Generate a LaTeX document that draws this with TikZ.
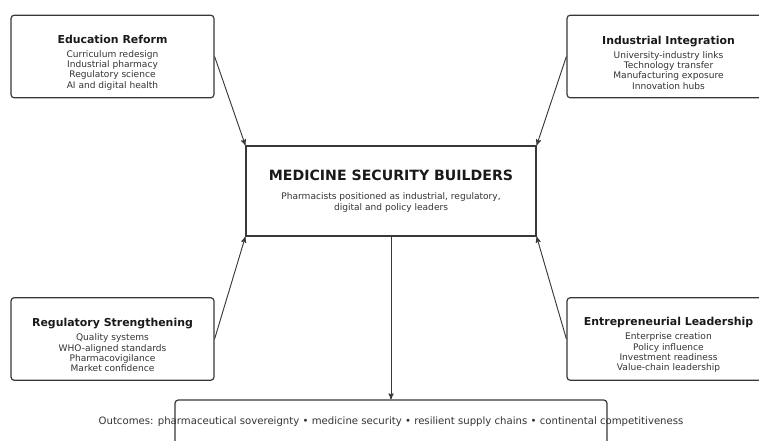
\documentclass[tikz,border=0pt]{standalone}
\usepackage{fontspec}
\setmainfont{DejaVu Sans}
\usetikzlibrary{positioning}
\usetikzlibrary{arrows}
\definecolor{BoxLine}{rgb}{0.22,0.22,0.22}
\definecolor{BodyText}{rgb}{0.2,0.2,0.2}
\newcommand{\pillarhead}[1]{\rule{0pt}{15.2pt}{\color{black!90}\bfseries\fontsize{8.2}{9.5}\selectfont #1}}

\begin{document}
\begin{tikzpicture}[x=0.75pt,y=-0.75pt,
	pillar/.style={rectangle, draw=BoxLine, line width=0.9pt, rounded corners=2.5pt,
		minimum width=152.25pt, minimum height=62pt, inner sep=0pt, align=center,
		font=\fontsize{6.8}{7.7}\selectfont, text=BodyText},
	core/.style={rectangle, draw=BoxLine, line width=0.9pt,
		minimum width=217.5pt, minimum height=67.5pt, inner sep=0pt, align=center,
		font=\fontsize{6.8}{8.2}\selectfont, text=BodyText},
	outbox/.style={rectangle, draw=BoxLine, line width=0.9pt, rounded corners=2.5pt,
		minimum width=324pt, minimum height=37.5pt},
	outtext/.style={font=\fontsize{7.6}{9}\selectfont, text=BodyText, inner sep=0pt},
	post/.style={->, draw=BoxLine, >=stealth', line width=0.7pt}]

	\clip (0,0) rectangle (759,441);

	% Centre
	\node[core] (core) at (391,191) {{\color{black!90}\bfseries\fontsize{10.6}{12}\selectfont MEDICINE SECURITY BUILDERS}\\[6.5pt]
		Pharmacists positioned as industrial, regulatory,\\ digital and policy leaders};
	% Pillars
	\node[pillar] (edu) at (112.5,56.5) {\pillarhead{Education Reform}\\[3pt]
		Curriculum redesign\\ Industrial pharmacy\\ Regulatory science\\ AI and digital health};
	\node[pillar] (ind) at (668.5,56.5) {\pillarhead{Industrial Integration}\\[3pt]
		University-industry links\\ Technology transfer\\ Manufacturing exposure\\ Innovation hubs};
	\node[pillar] (reg) at (112.5,339) {\pillarhead{Regulatory Strengthening}\\[3pt]
		Quality systems\\ WHO-aligned standards\\ Pharmacovigilance\\ Market confidence};
	\node[pillar] (ent) at (668.5,339) {\pillarhead{Entrepreneurial Leadership}\\[3pt]
		Enterprise creation\\ Policy influence\\ Investment readiness\\ Value-chain leadership};
	% Outcomes
	\node[outbox] (out) at (391,425) {};
	\node[outtext] (outtxt) at (391,422) {Outcomes: pharmaceutical sovereignty • medicine security • resilient supply chains • continental competitiveness};

	\path[post] (edu.east) to (core.north west);
	\path[post] (ind.west) to (core.north east);
	\path[post] (reg.east) to (core.south west);
	\path[post] (ent.west) to (core.south east);
	\path[post] (core.south) to (out.north);
\end{tikzpicture}
\end{document}
